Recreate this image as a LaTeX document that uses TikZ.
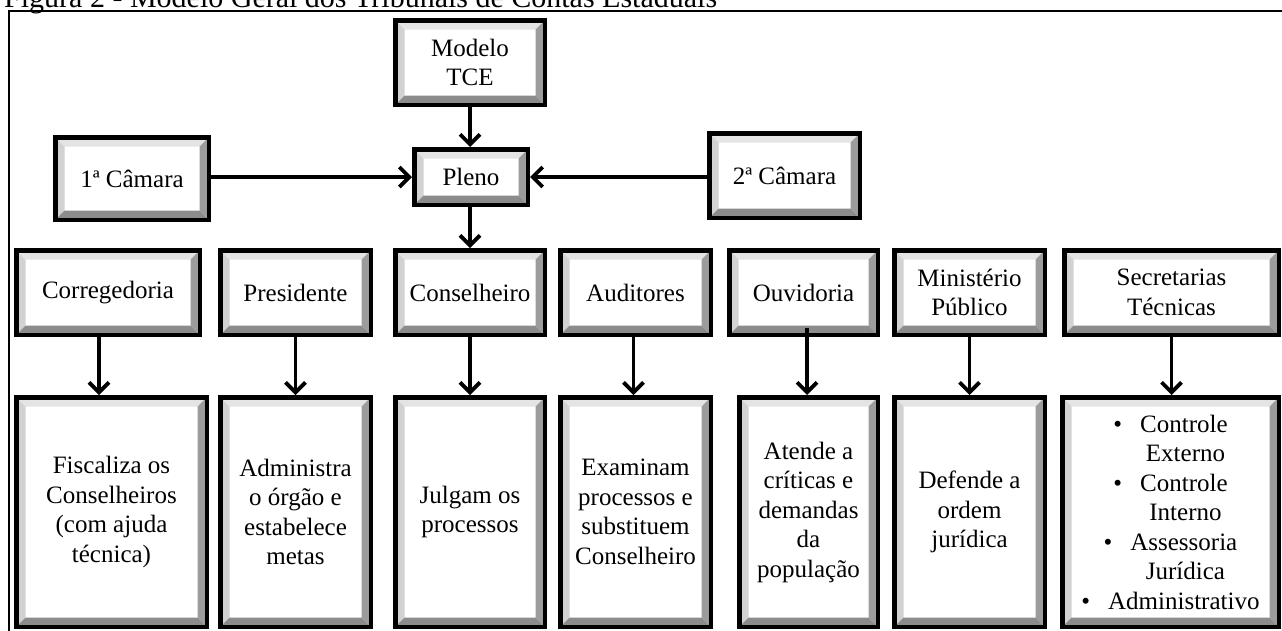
\documentclass[tikz,border=0pt]{standalone}
\usepackage{fontspec}
\setmainfont{Liberation Serif}
\usetikzlibrary{arrows.meta,calc}
\newcommand\boxfont{\fontsize{25}{29.5}\selectfont}
\newcommand\capfont{\fontsize{30}{32}\selectfont}
\definecolor{bevtop}{HTML}{E4E4E4}
\definecolor{bevleft}{HTML}{D2D2D2}
\definecolor{bevright}{HTML}{9C9C9C}
\definecolor{bevbot}{HTML}{8C8C8C}
\tikzset{
  bevelbox/.style={draw=black, line width=4.5pt, fill=white, inner sep=0pt,
    align=center, font=\boxfont, text=black,
    path picture={
      \coordinate (pnw) at (path picture bounding box.north west);
      \coordinate (pne) at (path picture bounding box.north east);
      \coordinate (psw) at (path picture bounding box.south west);
      \coordinate (pse) at (path picture bounding box.south east);
      \fill[bevtop] (pnw) -- (pne) -- ($(pne)+(-9.25,9.25)$) -- ($(pnw)+(9.25,9.25)$) -- cycle;
      \fill[bevleft] (pnw) -- (psw) -- ($(psw)+(9.25,-9.25)$) -- ($(pnw)+(9.25,9.25)$) -- cycle;
      \fill[bevright] (pne) -- (pse) -- ($(pse)+(-9.25,-9.25)$) -- ($(pne)+(-9.25,9.25)$) -- cycle;
      \fill[bevbot] (psw) -- (pse) -- ($(pse)+(-9.25,-9.25)$) -- ($(psw)+(9.25,-9.25)$) -- cycle;
    }},
  arr/.style={draw=black, line width=3.8pt, -{Straight Barb[length=10pt,width=20pt]}},
  framepen/.style={draw=black, line width=1.4pt}
}
\newcommand\mybox[6]{\node[bevelbox, minimum width={#4pt-#2pt-4.5pt}, minimum height={#5pt-#3pt-4.5pt}] (#1) at ({(#2+#4)/2},{(#3+#5)/2}) {#6};}
\begin{document}
\begin{tikzpicture}[x=1pt,y=-1pt]
\useasboundingbox (0,0) rectangle (1282,630);
\clip (0,0) rectangle (1282,630);
\fill[white] (0,0) rectangle (1282,630);
% caption and frame
\node[anchor=base west, font=\capfont, inner sep=0pt] (cap) at (4,7) {Figura 2 - Modelo Geral dos Tribunais de Contas Estaduais};
\draw[framepen] (9,632) -- (9,11) -- (1284,11);
% top part
\mybox{mod}{393}{18}{547}{107}{Modelo\\TCE}
\mybox{ple}{412}{147}{530}{207}{Pleno}
\mybox{cA}{53}{135}{211}{222}{1ª Câmara}
\mybox{cB}{707}{131}{862}{220}{2ª Câmara}
% row 1
\mybox{cor}{14}{248}{202}{337}{Corregedoria}
\mybox{pre}{218}{248}{373}{337}{Presidente}
\mybox{con}{393}{248}{547}{337}{Conselheiro}
\mybox{aud}{558}{248}{713}{337}{Auditores}
\mybox{ouv}{727}{248}{880}{337}{Ouvidoria}
\mybox{mpu}{892}{248}{1047}{337}{Ministério\\Público}
\mybox{sec}{1062}{248}{1281}{337}{Secretarias\\Técnicas}
% row 2
\mybox{fis}{14}{395}{209}{629}{Fiscaliza os\\Conselheiros\\(com ajuda\\técnica)}
\mybox{adm}{218}{395}{373}{629}{Administra\\o órgão e\\estabelece\\metas}
\mybox{jul}{393}{395}{547}{629}{Julgam os\\processos}
\mybox{exa}{558}{395}{713}{629}{Examinam\\processos e\\substituem\\Conselheiro}
\mybox{ate}{737}{395}{880}{629}{Atende a\\críticas e\\demandas\\da\\população}
\mybox{dfd}{892}{395}{1047}{629}{Defende a\\ordem\\jurídica}
\mybox{ctl}{1060}{395}{1281}{629}{\textbullet\hspace{18pt}Controle\\\hspace*{30pt}Externo\\\textbullet\hspace{18pt}Controle\\\hspace*{30pt}Interno\\\textbullet\hspace{18pt}Assessoria\\\hspace*{30pt}Jurídica\\\textbullet\hspace{18pt}Administrativo}
% connectors
\draw[arr] (mod.south) -- (mod.south |- ple.north);
\draw[arr] (cA.east |- ple.west) -- (ple.west);
\draw[arr] (cB.west |- ple.east) -- (ple.east);
\draw[arr] (ple.south -| con.north) -- (con.north);
\draw[arr] ([xshift=-9pt]cor.south) -- ([xshift=-9pt]cor.south |- fis.north);
\draw[arr] (pre.south) -- (pre.south |- adm.north);
\draw[arr] (con.south) -- (con.south |- jul.north);
\draw[arr] ([xshift=-2pt]aud.south) -- ([xshift=-2pt]aud.south |- exa.north);
\draw[arr] ([xshift=3.5pt,yshift=9pt]ouv.south) -- ([xshift=3.5pt]ouv.south |- ate.north);
\draw[arr] (mpu.south) -- (mpu.south |- dfd.north);
\draw[arr] (sec.south) -- (sec.south |- ctl.north);
\end{tikzpicture}
\end{document}
